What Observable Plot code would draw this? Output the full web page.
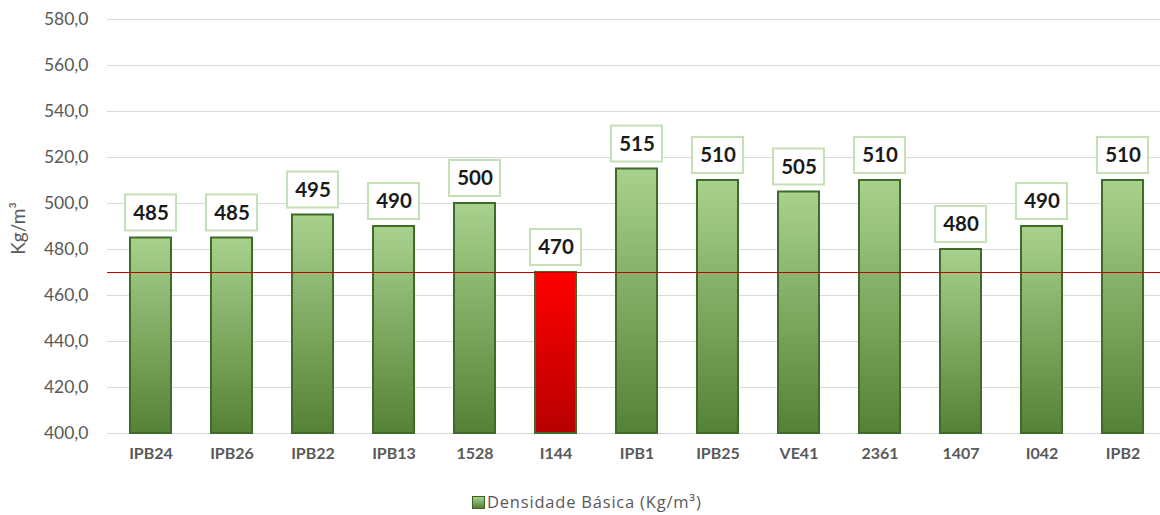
<!DOCTYPE html>
<html>
<head>
<meta charset="utf-8">
<script src="https://cdn.jsdelivr.net/npm/d3@7"></script>
<script src="https://cdn.jsdelivr.net/npm/@observablehq/plot@0.6"></script>
<style>
  html, body { margin: 0; padding: 0; background: #fff; }
  #chart { width: 1160px; }
  .legend { height: 35px; position: relative; font-family: "Open Sans", Lato, sans-serif; font-size: 16.5px; letter-spacing: 0.8px; color: #595959; }
  .legend .sw { position: absolute; left: 472px; top: 16px; width: 11px; height: 11px; border: 1px solid #3b6326; background: linear-gradient(#a9d18e, #548235); }
  .legend .tx { position: absolute; left: 487px; top: 10px; }
</style>
</head>
<body>
<div id="chart"></div>
<script>
const categories = ["IPB24","IPB26","IPB22","IPB13","1528","I144","IPB1","IPB25","VE41","2361","1407","I042","IPB2"];
const values = [485,485,495,490,500,470,515,510,505,510,480,490,510];
const yTicks = [400,420,440,460,480,500,520,540,560,580];
const reference = [470];
const highlight = "I144";
const yLabel = "Kg/m³";
const legendLabel = "Densidade Básica (Kg/m³)";

const data = categories.map((c, i) => ({cat: c, value: values[i]}));
const fmt = d => d.toFixed(1).replace(".", ",");

const plot = Plot.plot({
  width: 1160,
  height: 480,
  marginLeft: 107,
  marginRight: 0,
  marginTop: 19,
  marginBottom: 47,
  style: {fontFamily: "Lato, 'Open Sans', sans-serif", background: "#fff"},
  x: {type: "band", domain: categories, range: [106.4, 1167.2], paddingInner: 0.49, paddingOuter: 0.245, axis: null},
  y: {domain: [400, 580], axis: null},
  marks: [
    Plot.ruleY(yTicks, {stroke: "#d9d9d9", strokeWidth: 1}),
    Plot.barY(data, {x: "cat", y1: 400, y2: "value",
      fill: d => d.cat === highlight ? "url(#gRed)" : "url(#gGreen)",
      stroke: "#3e6b27", strokeWidth: 2}),
    Plot.ruleY(reference, {stroke: "#c00000", strokeWidth: 1.2}),
    Plot.barY(data, {x: "cat", y1: "value", y2: "value",
      insetTop: -43, insetBottom: 7, insetLeft: -5, insetRight: -5,
      fill: "white", stroke: "#c5e0b4", strokeWidth: 2}),
    Plot.text(data, {x: "cat", y: "value", text: d => String(d.value), dy: -25,
      fontSize: 20.5, fontWeight: "bold", fill: "#1a1a1a"}),
    Plot.text(categories, {x: d => d, frameAnchor: "bottom", dy: 25,
      fontSize: 16, fontWeight: "bold", fill: "#595959"}),
    Plot.text(yTicks, {y: d => d, text: fmt, frameAnchor: "left", dx: -19, textAnchor: "end",
      fontSize: 17.5, fill: "#595959"}),
    Plot.text([yLabel], {text: d => d, frameAnchor: "left", textAnchor: "middle", dx: -89, dy: 2, rotate: -90,
      fontSize: 19, fill: "#595959"})
  ]
});

const defs = d3.create("svg:defs");
const g = defs.append("linearGradient").attr("id", "gGreen").attr("x1", 0).attr("y1", 0).attr("x2", 0).attr("y2", 1);
g.append("stop").attr("offset", "0%").attr("stop-color", "#a9d18e");
g.append("stop").attr("offset", "100%").attr("stop-color", "#548235");
const r = defs.append("linearGradient").attr("id", "gRed").attr("x1", 0).attr("y1", 0).attr("x2", 0).attr("y2", 1);
r.append("stop").attr("offset", "0%").attr("stop-color", "#ff0000");
r.append("stop").attr("offset", "100%").attr("stop-color", "#b80000");
plot.insertBefore(defs.node(), plot.firstChild);

document.getElementById("chart").appendChild(plot);
const leg = document.createElement("div");
leg.className = "legend";
leg.innerHTML = '<div class="sw"></div><div class="tx"></div>';
leg.querySelector(".tx").textContent = legendLabel;
document.getElementById("chart").appendChild(leg);
</script>
</body>
</html>
